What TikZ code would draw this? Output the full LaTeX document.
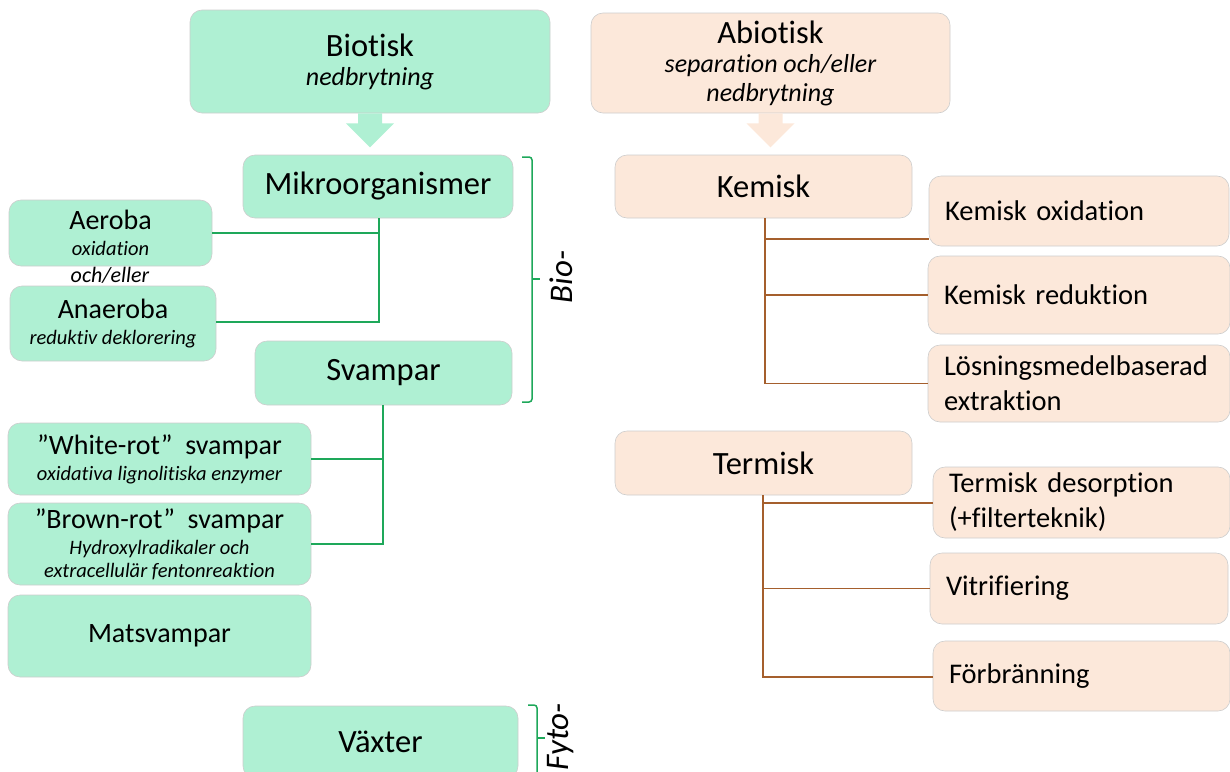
\documentclass[tikz,border=0pt]{standalone}
\usepackage{fontspec}
\setmainfont{Carlito}[Ligatures=NoCommon]
\usetikzlibrary{calc}
\definecolor{gfill}{RGB}{175,240,211}
\definecolor{pfill}{RGB}{252,232,218}
\definecolor{gline}{RGB}{30,168,90}
\definecolor{bline}{RGB}{165,95,45}
\definecolor{edge}{RGB}{205,205,205}
\tikzset{
  box/.style={rounded corners=12pt, draw=edge, line width=0.6pt, inner sep=2pt, align=center},
  gbox/.style={box, fill=gfill},
  pbox/.style={box, fill=pfill},
  rbox/.style={box, fill=pfill, align=left, text width=#1, inner xsep=16pt},
  big/.style={font=\fontsize{32.5}{29}\selectfont},
  mid/.style={font=\fontsize{28}{26}\selectfont},
  med/.style={font=\fontsize{28.5}{35}\selectfont},
  gconn/.style={draw=gline, line width=1.8pt},
  bconn/.style={draw=bline, line width=1.5pt},
  brk/.style={draw=gline, line width=1.5pt},
  side/.style={rotate=90, font=\fontsize{33}{36}\selectfont\itshape},
}
\newcommand{\sub}[1]{{\fontsize{20.5}{26}\selectfont\itshape #1}}
\newcommand{\subb}[1]{{\fontsize{26}{29}\selectfont\itshape #1}}
\begin{document}
\begin{tikzpicture}[x=1pt,y=-1pt]
\useasboundingbox (0,0) rectangle (1230,771);
% ---------- left (biotic) ----------
\node[gbox, minimum width=360, minimum height=103, big] (bio) at (370,61.5) {Biotisk\\\subb{nedbrytning}};
\fill[gfill] ($(bio.south)+(-12,0)$) -- ++(24,0) -- ++(0,10) -- ++(12,0) -- ($(bio.south)+(0,34)$) -- ($(bio.south)+(-24,10)$) -- ++(12,0) -- cycle;
\node[gbox, minimum width=270, minimum height=63, big] (mikro) at (378,186.5) {Mikroorganismer};
\node[gbox, minimum width=203, minimum height=66, mid] (aer) at (110.5,233) {Aeroba\\\sub{oxidation}};
\node[font=\fontsize{22}{26}\selectfont\itshape] (och) at (110,275) {och/eller};
\node[gbox, minimum width=206, minimum height=75, mid] (anaer) at (113,323.5) {Anaeroba\\\sub{reduktiv deklorering}};
\node[gbox, minimum width=257, minimum height=64, big] (svamp) at (383.5,373) {Svampar};
\node[gbox, minimum width=303, minimum height=72, mid] (white) at (159.5,459) {”White-rot”\ \ svampar\\\sub{oxidativa lignolitiska enzymer}};
\node[gbox, minimum width=303, minimum height=82, mid] (brown) at (159.5,544) {”Brown-rot”\ \ svampar\\\sub{Hydroxylradikaler och}\\[-3pt]\sub{extracellulär fentonreaktion}};
\node[gbox, minimum width=303, minimum height=82, mid] (mat) at (159.5,636) {Matsvampar};
\node[gbox, minimum width=275, minimum height=72, big] (vaxt) at (380.5,742) {Växter};
% connectors
\coordinate (mj) at (379,322);
\draw[gconn] (mikro.south -| mj) -- (mj) -- (anaer.east |- mj);
\draw[gconn] (aer.east) -- (aer.east -| mj);
\coordinate (sj) at (383,544);
\draw[gconn] (svamp.south -| sj) -- (sj) -- (brown.east);
\draw[gconn] (white.east) -- (white.east -| sj);
% brackets
\draw[brk, rounded corners=3pt] (522,157) -- (532,157) -- (532,402) -- (522,402);
\draw[brk] (532,279) -- (540,279);
\node[side] (biolab) at (561,277) {Bio-};
\draw[brk, rounded corners=3pt] (528,705) -- (537,705) -- (537,775);
\draw[brk] (537,738) -- (545,738);
\node[side] (fytolab) at (561,737) {Fyto-};
% ---------- right (abiotic) ----------
\node[pbox, minimum width=359, minimum height=100, big] (abio) at (770.5,63) {Abiotisk\\\subb{separation och/eller}\\\subb{nedbrytning}};
\fill[pfill] ($(abio.south)+(-12,0)$) -- ++(24,0) -- ++(0,10) -- ++(12,0) -- ($(abio.south)+(0,34)$) -- ($(abio.south)+(-24,10)$) -- ++(12,0) -- cycle;
\node[pbox, minimum width=297, minimum height=63, big] (kem) at (763.5,186.5) {Kemisk};
\node[rbox=268, minimum height=70, med] (kox) at (1079,211) {Kemisk oxidation};
\node[rbox=270, minimum height=78, med] (kred) at (1079,295) {Kemisk reduktion};
\node[rbox=270, minimum height=77, med] (klos) at (1079,383.5) {Lösningsmedelbaserad\\extraktion};
\node[pbox, minimum width=297, minimum height=64, big] (term) at (763.5,463) {Termisk};
\node[rbox=265, minimum height=71, med] (tdes) at (1081.5,502.5) {Termisk desorption\\(+filterteknik)};
\node[rbox=266, minimum height=71, med] (tvit) at (1079,588.5) {Vitrifiering};
\node[rbox=265, minimum height=70, med] (tfor) at (1081.5,676) {Förbränning};
% connectors
\coordinate (kj) at (765,383.5);
\draw[bconn] (kem.south -| kj) -- (kj) -- (klos.west);
\draw[bconn] (kj |- 0,239) -- (kox.west |- 0,239);
\draw[bconn] (kj |- kred.west) -- (kred.west);
\coordinate (tj) at (763,677);
\draw[bconn] (term.south -| tj) -- (tj) -- (tfor.west |- tj);
\draw[bconn] (tj |- 0,503) -- (tdes.west |- 0,503);
\draw[bconn] (tj |- tvit.west) -- (tvit.west);
\end{tikzpicture}
\end{document}
